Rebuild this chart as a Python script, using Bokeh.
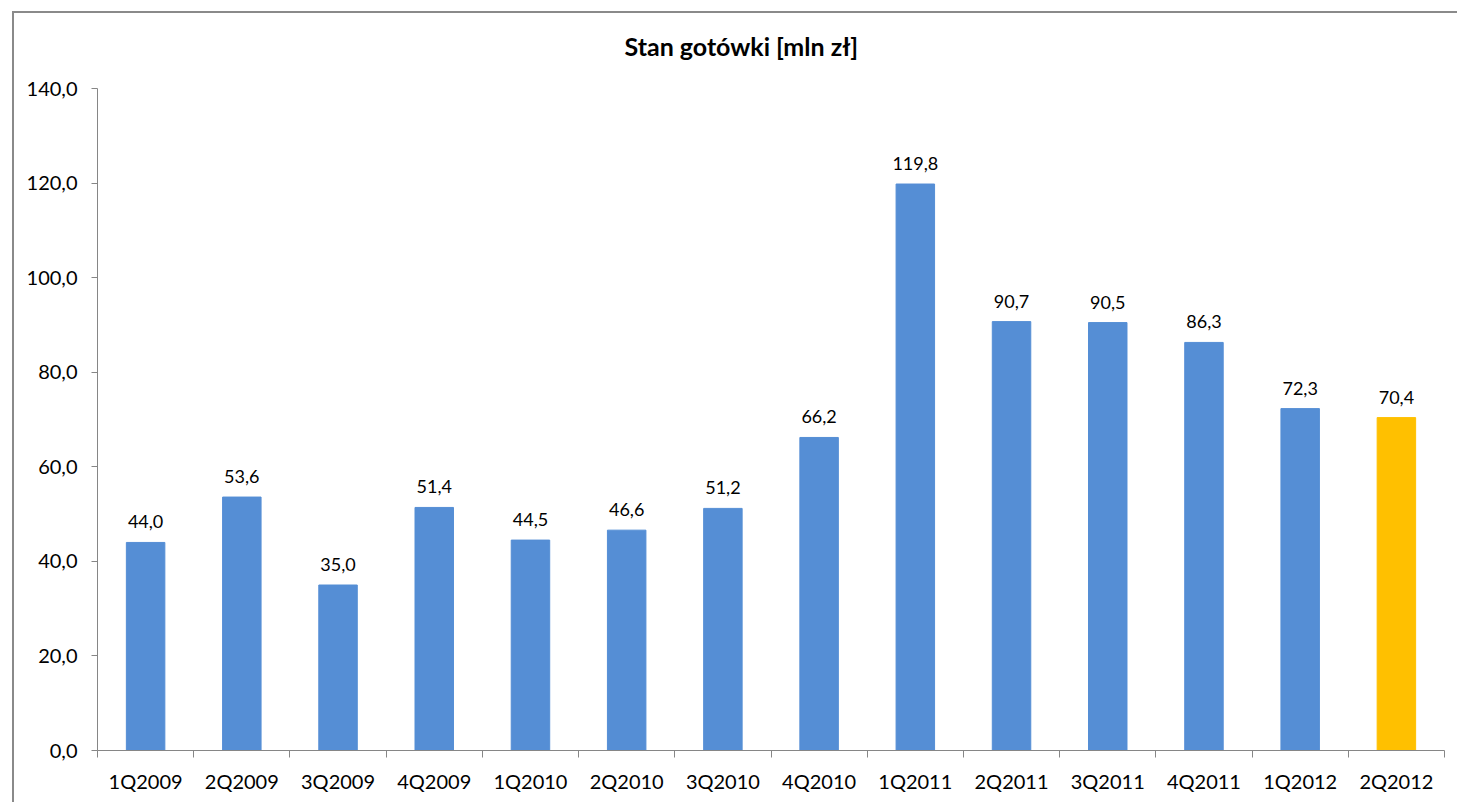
from bokeh.plotting import figure
from bokeh.models import Range1d, FixedTicker, ColumnDataSource, LabelSet
from bokeh.core.properties import value
from bokeh.embed import file_html
from bokeh.resources import INLINE

# ---- data ----
CATEGORIES = ["1Q2009", "2Q2009", "3Q2009", "4Q2009", "1Q2010", "2Q2010",
              "3Q2010", "4Q2010", "1Q2011", "2Q2011", "3Q2011", "4Q2011",
              "1Q2012", "2Q2012"]
VALUES = [44.0, 53.6, 35.0, 51.4, 44.5, 46.6, 51.2, 66.2, 119.8, 90.7,
          90.5, 86.3, 72.3, 70.4]
Y_TICKS = [0, 20, 40, 60, 80, 100, 120, 140]
TITLE = "Stan gotówki [mln zł]"

BLUE = "#558ED5"
YELLOW = "#FFC000"
GREY = "#868686"
FONT = "Lato"

n = len(CATEGORIES)
xs = [i + 0.5 for i in range(n)]
colors = [BLUE] * (n - 1) + [YELLOW]
labels = [f"{v:.1f}".replace(".", ",") for v in VALUES]

src = ColumnDataSource(dict(x=xs, top=VALUES, color=colors, label=labels,
                            cat=CATEGORIES))

# chart-area border along the top and left edges, drawn behind the canvas
# (first shadow is painted on top: white band masks all but a 2px grey line)
border_css = {"box-shadow": "inset 12px 11px 0 0 #ffffff, "
                            "inset 14px 13px 0 0 #8a8a8a",
              "background-color": "#ffffff"}

p = figure(width=1457, height=802, output_backend="svg", toolbar_location=None,
           x_range=Range1d(0, n), y_range=Range1d(0, Y_TICKS[-1]),
           min_border_left=97, min_border_right=13, min_border_top=88,
           min_border_bottom=52, title=TITLE, styles=border_css)
p.title.align = "left"
p.title.offset = 527
p.title.text_font = FONT
p.title.text_font_size = "25px"
p.title.text_font_style = "bold"
p.title.text_color = "black"
p.title.standoff = 56

p.outline_line_color = None
p.background_fill_color = "white"
p.border_fill_color = None
p.border_fill_alpha = 0
p.xgrid.visible = False
p.ygrid.visible = False

p.vbar(x="x", top="top", width=0.4, color="color", source=src)

p.add_layout(LabelSet(x="x", y="top", text="label", source=src,
                      text_align="center", text_baseline="bottom",
                      y_offset=14, text_font=value(FONT),
                      text_font_size=value("18px"), text_color="black"))

# y axis
ya = p.yaxis[0]
ya.ticker = FixedTicker(ticks=Y_TICKS)
ya.major_label_overrides = {t: f"{t:.1f}".replace(".", ",") for t in Y_TICKS}
ya.axis_line_color = GREY
ya.major_tick_line_color = GREY
ya.major_tick_in = 0
ya.major_tick_out = 6
ya.minor_tick_line_color = None
ya.major_label_standoff = 14
ya.major_label_text_font = FONT
ya.major_label_text_font_size = "20px"
ya.major_label_text_color = "black"

# x axis: labels at centers, tick marks between categories
xa = p.xaxis[0]
xa.ticker = FixedTicker(ticks=xs, minor_ticks=list(range(n + 1)))
xa.major_label_overrides = {x: c for x, c in zip(xs, CATEGORIES)}
xa.axis_line_color = GREY
xa.major_tick_line_color = None
xa.major_tick_in = 0
xa.major_tick_out = 0
xa.minor_tick_line_color = GREY
xa.minor_tick_in = 0
xa.minor_tick_out = 7
xa.major_label_standoff = 11
xa.major_label_text_font = FONT
xa.major_label_text_font_size = "20px"
xa.major_label_text_color = "black"

open("out.html", "w").write(file_html(p, INLINE))
